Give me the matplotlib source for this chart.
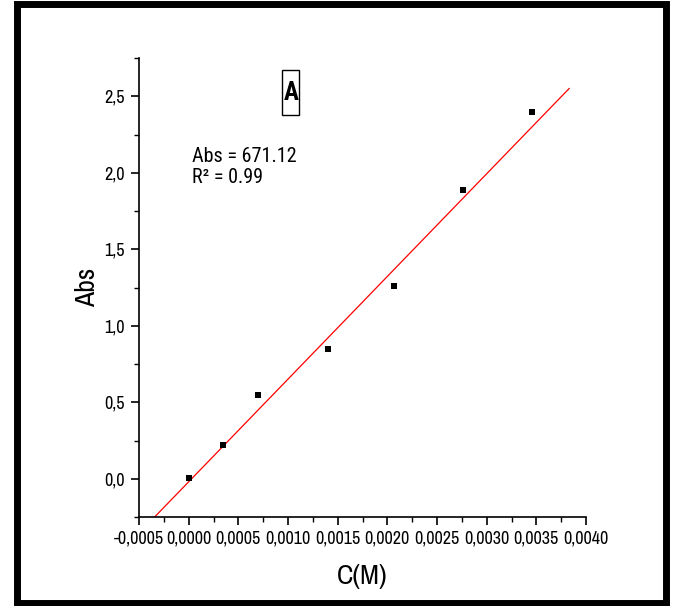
import matplotlib
matplotlib.use("Agg")
import matplotlib.pyplot as plt
from matplotlib.patches import Rectangle
from matplotlib.ticker import FixedLocator, MultipleLocator, FixedFormatter
import numpy as np

# data
conc = [0.0, 0.00035, 0.0007, 0.0014, 0.00207, 0.00276, 0.00346]
absorb = [0.005, 0.222, 0.55, 0.85, 1.257, 1.89, 2.395]
slope = 671.12
intercept = -0.02
fit_x = [-0.00040, 0.00383]

xticks = [-0.0005, 0.0, 0.0005, 0.0010, 0.0015, 0.0020, 0.0025, 0.0030, 0.0035, 0.0040]
xtick_labels = ["-0,0005", "0,0000", "0,0005", "0,0010", "0,0015", "0,0020",
                "0,0025", "0,0030", "0,0035", "0,0040"]
yticks = [0.0, 0.5, 1.0, 1.5, 2.0, 2.5]
ytick_labels = ["0,0", "0,5", "1,0", "1,5", "2,0", "2,5"]

plt.rcParams['font.family'] = ['Archivo Narrow', 'Roboto Condensed', 'Liberation Sans', 'DejaVu Sans']
annot_font = ['Roboto Condensed', 'Liberation Sans', 'DejaVu Sans']

fig = plt.figure(figsize=(6.77, 6.06), dpi=100)
ax = fig.add_axes([139/677, 1-517/606, (586-139)/677, (517-58)/606])

fx = np.array(fit_x)
ax.plot(fx, slope*fx + intercept, color='red', lw=0.9, zorder=2)
ax.scatter(conc, absorb, marker='s', s=22, color='black', zorder=3, linewidths=0)

ax.set_xlim(-0.0005, 0.0040)
ax.set_ylim(-0.25, 2.75)
ax.xaxis.set_major_locator(FixedLocator(xticks))
ax.xaxis.set_major_formatter(FixedFormatter(xtick_labels))
ax.xaxis.set_minor_locator(MultipleLocator(0.00025))
ax.yaxis.set_major_locator(FixedLocator(yticks))
ax.yaxis.set_major_formatter(FixedFormatter(ytick_labels))
ax.yaxis.set_minor_locator(MultipleLocator(0.25))

for s in ['top', 'right']:
    ax.spines[s].set_visible(False)
for s in ['left', 'bottom']:
    ax.spines[s].set_linewidth(1.2)

ax.tick_params(which='major', direction='out', length=6, width=1.2, labelsize=13, pad=4)
ax.tick_params(which='minor', direction='out', length=3.5, width=1.0)

ax.set_xlabel("C(M)", fontsize=20, labelpad=12)
ax.set_ylabel("Abs", fontsize=20, labelpad=3)

fig.text(192/677, 1-162/606, "Abs = 671.12", fontsize=14.5, ha='left', va='baseline', family=annot_font)
fig.text(192/677, 1-183/606, "R² = 0.99", fontsize=14.5, ha='left', va='baseline', family=annot_font)

fig.patches.append(Rectangle((282/677, 1-115/606), 17/677, 45/606, transform=fig.transFigure,
                             fill=False, edgecolor='black', lw=1.0))
fig.text(291.5/677, 1-93/606, "A", fontsize=18, fontweight='bold', ha='center', va='center',
         family=annot_font)

fig.patches.append(Rectangle((16.5/677, 1-602.5/606), (665.5-16.5)/677, (602.5-3.5)/606,
                             transform=fig.transFigure, fill=False, edgecolor='black', lw=5.0))

fig.savefig("out.png", dpi=100)
